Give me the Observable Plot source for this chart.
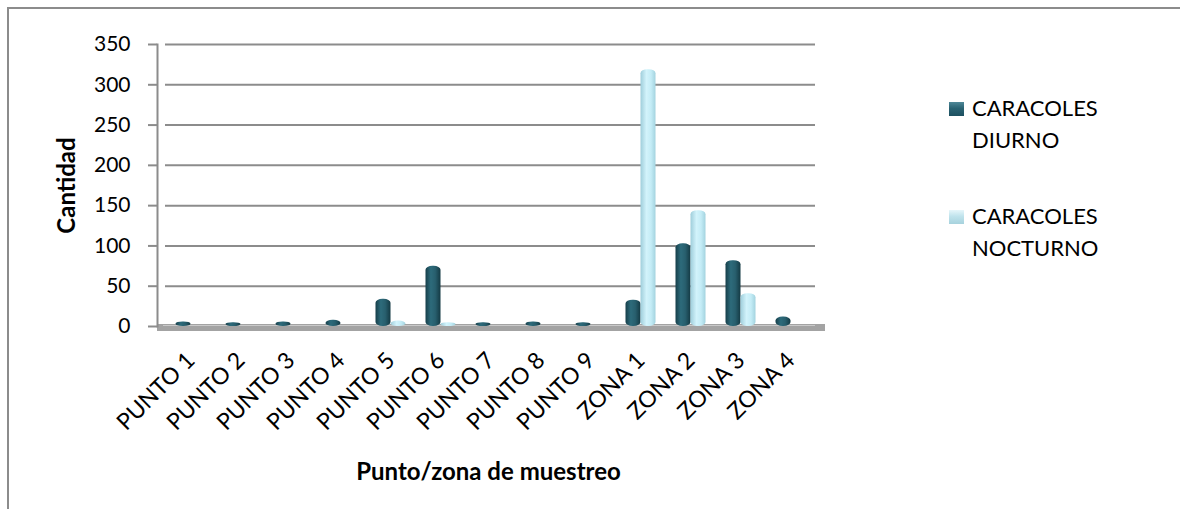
<!DOCTYPE html>
<html>
<head>
<meta charset="utf-8">
<script src="https://cdn.jsdelivr.net/npm/d3@7"></script>
<script src="https://cdn.jsdelivr.net/npm/@observablehq/plot@0.6"></script>
<style>
  html, body { margin: 0; padding: 0; background: #fff; overflow: hidden; }
  #wrap { position: relative; width: 1180px; height: 509px; overflow: hidden; font-family: Lato, "Open Sans", sans-serif; }
  .bl { position: absolute; background: #8c8c8c; }
  #chart { position: absolute; left: 0; top: 0; }
  .leg { position: absolute; left: 972px; font-size: 22px; line-height: 32px; color: #000; }
  .sw { position: absolute; left: 949px; width: 15px; height: 14px; }
</style>
</head>
<body>
<div id="wrap">
  <div class="bl" style="left:7px;top:7px;width:2px;height:502px;"></div>
  <div class="bl" style="left:7px;top:7px;width:1173px;height:2px;"></div>
  <div id="chart"></div>
  <div class="sw" style="top:102px;background:linear-gradient(180deg,#4f8898 0%,#2a6373 45%,#1d5060 100%);"></div>
  <div class="leg" style="top:92px;">CARACOLES<br>DIURNO</div>
  <div class="sw" style="top:210px;background:linear-gradient(180deg,#e6f6fa 0%,#bfe3ec 45%,#a7d2dd 100%);"></div>
  <div class="leg" style="top:200px;">CARACOLES<br>NOCTURNO</div>
</div>
<script>
const categories = ["PUNTO 1","PUNTO 2","PUNTO 3","PUNTO 4","PUNTO 5","PUNTO 6","PUNTO 7","PUNTO 8","PUNTO 9","ZONA 1","ZONA 2","ZONA 3","ZONA 4"];
const series = ["CARACOLES DIURNO", "CARACOLES NOCTURNO"];
const diurno = [2, 1, 2, 4, 30, 71, 1, 2, 1, 29, 99, 78, 8];
const nocturno = [0, 0, 0, 0, 3, 1, 0, 0, 0, 315, 140, 37, 0];
const yTicks = [0, 50, 100, 150, 200, 250, 300, 350];

const rows = [];
categories.forEach((c, i) => {
  rows.push({cat: c, serie: series[0], v: diurno[i]});
  rows.push({cat: c, serie: series[1], v: nocturno[i]});
});
const dark = rows.filter(d => d.serie === series[0] && d.v > 0);
const light = rows.filter(d => d.serie === series[1] && d.v > 0);

const chart = Plot.plot({
  width: 1180,
  height: 509,
  marginLeft: 157,
  marginRight: 361,
  marginTop: 44,
  marginBottom: 183,
  style: {fontFamily: "Lato, 'Open Sans', sans-serif", color: "#000", background: "transparent"},
  x: {domain: categories, range: [162, 819], paddingInner: 0.7, paddingOuter: 0.35},
  y: {domain: [0, 350]},
  marks: [
    Plot.ruleY(yTicks.filter(t => t > 0), {stroke: "#8c8c8c", strokeWidth: 2, insetLeft: 8, insetRight: 4}),
    Plot.ruleY([0], {stroke: "#a3a3a3", strokeWidth: 7, dy: 1, insetRight: -6}),
    Plot.ruleY([0], {stroke: "#c9c9c9", strokeWidth: 1, dy: -1, insetLeft: 6, insetRight: 4}),
    Plot.frame({anchor: "left", stroke: "#8c8c8c", strokeWidth: 2}),
    Plot.axisY({ticks: yTicks, tickSize: 9, tickPadding: 18, fontSize: 21, stroke: "#8c8c8c", strokeWidth: 2, fill: "#000",
      label: "Cantidad", labelAnchor: "center", labelOffset: 100, labelArrow: "none"}),
    Plot.axisX({tickRotate: -45, tickSize: 0, tickPadding: 30, fontSize: 23, fill: "#000",
      label: "Punto/zona de muestreo", labelAnchor: "center", labelOffset: 153, labelArrow: "none"}),
    Plot.barY(dark, {x: "cat", y: "v", fill: "url(#gDark)", dx: -7.5, rx: 7, ry: 4, insetTop: -3}),
    Plot.barY(light, {x: "cat", y: "v", fill: "url(#gLight)", dx: 7.5, rx: 7, ry: 4, insetTop: -3})
  ]
});

const defs = document.createElementNS("http://www.w3.org/2000/svg", "defs");
defs.innerHTML = `
  <linearGradient id="gDark" x1="0" x2="1" y1="0" y2="0">
    <stop offset="0" stop-color="#163e49"/>
    <stop offset="0.35" stop-color="#2d6b7b"/>
    <stop offset="0.65" stop-color="#285f6e"/>
    <stop offset="1" stop-color="#143a44"/>
  </linearGradient>
  <linearGradient id="gLight" x1="0" x2="1" y1="0" y2="0">
    <stop offset="0" stop-color="#9fcedb"/>
    <stop offset="0.4" stop-color="#d2f3fb"/>
    <stop offset="0.7" stop-color="#c4ecf6"/>
    <stop offset="1" stop-color="#a3d3df"/>
  </linearGradient>`;
chart.insertBefore(defs, chart.firstChild);
chart.querySelectorAll('[aria-label="y-axis label"], [aria-label="x-axis label"]').forEach(g => {
  g.setAttribute("font-weight", "bold");
  g.setAttribute("font-size", "24");
  g.querySelectorAll("text").forEach(t => { t.textContent = t.textContent.replace(/\s*[→↑←↓]\s*/g, ""); });
});
document.getElementById("chart").appendChild(chart);
</script>
</body>
</html>
